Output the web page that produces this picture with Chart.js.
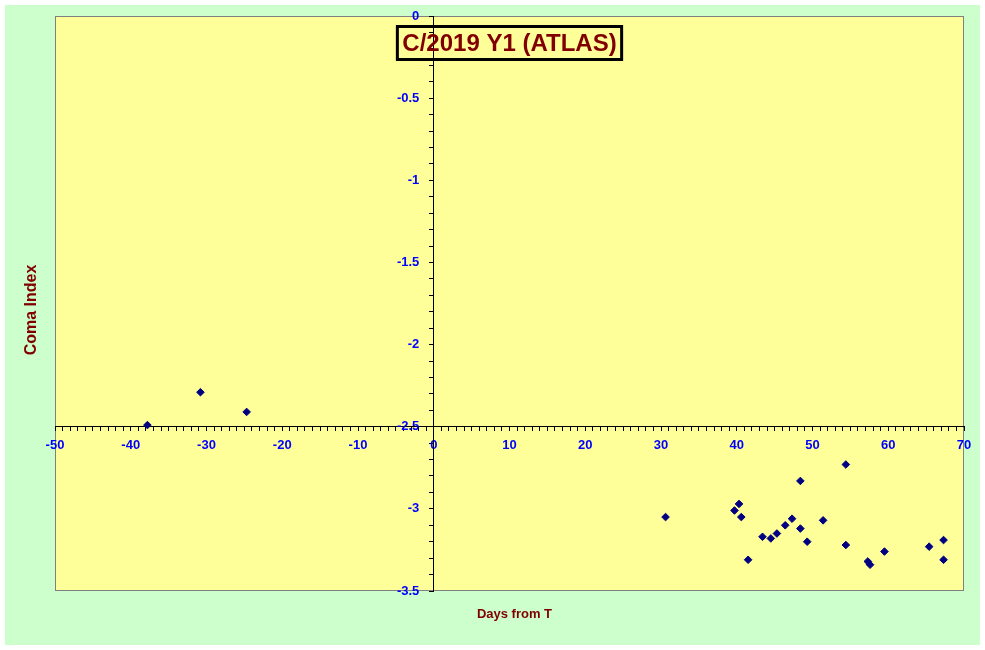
<!DOCTYPE html>
<html>
<head>
<meta charset="utf-8">
<script src="https://cdn.jsdelivr.net/npm/chart.js@4.4.1/dist/chart.umd.min.js"></script>
<style>
    html, body { margin: 0; padding: 0; background: #ffffff; }
    #wrap { width: 985px; height: 650px; }
</style>
</head>
<body>
<div id="wrap"><canvas id="comaChart" width="985" height="650"></canvas></div>
<script>
// Chart text
const chartTitle = 'C/2019 Y1 (ATLAS)';
const xAxisTitle = 'Days from T';
const yAxisTitle = 'Coma Index';

// Observations: days from perihelion and coma index
const daysFromT = [
    -37.8, -30.8, -24.7,
    30.6, 39.7, 40.3, 40.6, 41.5, 43.4, 44.5, 45.3, 46.4, 47.3, 48.4, 48.4,
    49.3, 51.4, 54.4, 54.4, 57.3, 57.6, 59.5, 65.4, 67.3, 67.3
];
const comaIndex = [
    -2.49, -2.29, -2.41,
    -3.05, -3.01, -2.97, -3.05, -3.31, -3.17, -3.18, -3.15, -3.10, -3.06, -2.83, -3.12,
    -3.20, -3.07, -2.73, -3.22, -3.32, -3.34, -3.26, -3.23, -3.19, -3.31
];

// Axis ranges and label steps
const xRange = [-50, 70];
const yRange = [-3.5, 0];
const xLabelStep = 10;
const yLabelStep = 0.5;

const points = daysFromT.map((d, i) => ({ x: d, y: comaIndex[i] }));

// Background, plot area and the text boxes drawn round the plot
const framePlugin = {
    id: 'frame',
    beforeDraw(chart) {
        const c = chart.ctx;
        const a = chart.chartArea;
        c.save();
        c.fillStyle = '#ffffff';
        c.fillRect(0, 0, chart.width, chart.height);
        c.fillStyle = '#ccffcc';
        c.fillRect(5, 5, chart.width - 10, chart.height - 10);
        c.fillStyle = '#ffff99';
        c.fillRect(a.left, a.top, a.right - a.left, a.bottom - a.top);
        c.strokeStyle = '#808080';
        c.lineWidth = 1;
        c.strokeRect(a.left + 0.5, a.top + 0.5, a.right - a.left - 1, a.bottom - a.top - 1);
        c.restore();
    },
    afterDraw(chart) {
        const c = chart.ctx;
        const a = chart.chartArea;
        c.save();
        // title box
        c.font = 'bold 24px "Liberation Sans", Arial, sans-serif';
        const cx = (a.left + a.right) / 2;
        const tw = c.measureText(chartTitle).width;
        const bw = tw + 10, bh = 33;
        c.strokeStyle = '#000000';
        c.lineWidth = 3;
        c.strokeRect(cx - bw / 2, a.top + 10.5, bw, bh);
        c.fillStyle = '#800000';
        c.textAlign = 'center';
        c.textBaseline = 'middle';
        c.fillText(chartTitle, cx, a.top + 10.5 + bh / 2 + 1);
        // axis titles
        c.font = 'bold 13px "Liberation Sans", Arial, sans-serif';
        c.fillText(xAxisTitle, cx + 5, 614);
        c.translate(32, 310);
        c.rotate(-Math.PI / 2);
        c.font = 'bold 16px "Liberation Sans", Arial, sans-serif';
        c.fillText(yAxisTitle, 0, 0);
        c.restore();
    }
};

const tickFont = { family: '"Liberation Sans", Arial, sans-serif', size: 13, weight: 'bold' };

const ctx = document.getElementById('comaChart').getContext('2d');
const comaChart = new Chart(ctx, {
    type: 'scatter',
    data: {
        datasets: [{
            label: yAxisTitle,
            data: points,
            pointStyle: 'rectRot',
            pointRadius: 3.8,
            pointHoverRadius: 3.8,
            backgroundColor: '#000080',
            borderColor: '#000080',
            borderWidth: 1
        }]
    },
    options: {
        responsive: false,
        animation: false,
        layout: { padding: { left: 55, right: 21, top: 16, bottom: 59 } },
        plugins: {
            legend: { display: false },
            tooltip: { enabled: false }
        },
        scales: {
            x: {
                type: 'linear',
                position: { y: -2.5 },
                min: xRange[0],
                max: xRange[1],
                border: { display: true, color: '#000000', width: 1 },
                grid: { drawOnChartArea: false, drawTicks: true, tickLength: 4, tickColor: '#000000' },
                ticks: {
                    stepSize: 1,
                    autoSkip: false,
                    maxRotation: 0,
                    padding: 7,
                    color: '#0000ff',
                    font: tickFont,
                    callback: v => (Math.round(v) % xLabelStep === 0 ? String(Math.round(v)) : '')
                }
            },
            y: {
                type: 'linear',
                position: { x: 0 },
                min: yRange[0],
                max: yRange[1],
                border: { display: true, color: '#000000', width: 1 },
                grid: { drawOnChartArea: false, drawTicks: true, tickLength: 4, tickColor: '#000000' },
                ticks: {
                    stepSize: 0.1,
                    autoSkip: false,
                    color: '#0000ff',
                    font: tickFont,
                    // trailing spaces keep the right-aligned labels clear of the axis line
                    callback: v => {
                        const tenths = Math.round(v * 10);
                        return tenths % (yLabelStep * 10) === 0 ? String(tenths / 10) + '    ' : '';
                    }
                }
            }
        }
    },
    plugins: [framePlugin]
});
</script>
</body>
</html>
